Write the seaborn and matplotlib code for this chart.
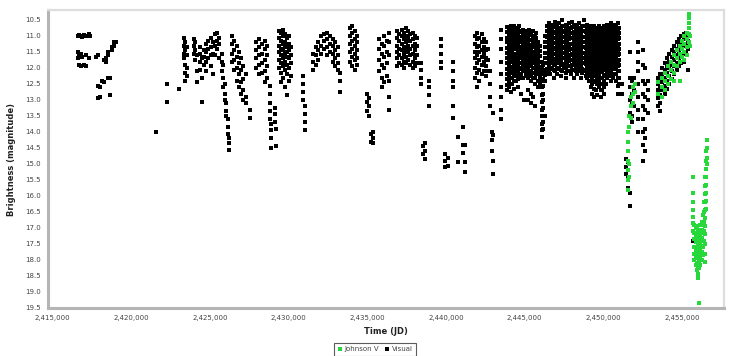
import matplotlib
matplotlib.use("Agg")
import matplotlib.pyplot as plt
import seaborn as sns
import pandas as pd
from matplotlib.ticker import FuncFormatter
from matplotlib.lines import Line2D

# Each entry: (Julian Date, [magnitude estimates reported around that date])

visual_1915 = [
    (2416630, [11.0, 11.5, 11.7]),
    (2416720, [10.97, 11.6, 11.9]),
    (2416810, [11.0, 11.55, 11.95]),
    (2416900, [11.02, 11.65]),
    (2417020, [10.98, 11.9]),
    (2417150, [11.0, 11.6, 11.95]),
    (2417300, [10.95, 11.7]),
    (2417390, [11.0]),
    (2417760, [11.65]),
    (2417900, [11.6, 12.55, 12.95]),
    (2418000, [12.6, 12.9]),
    (2418180, [12.4]),
    (2418300, [11.75, 12.45]),
    (2418420, [11.8, 11.7]),
    (2418560, [11.6, 11.5, 12.3]),
    (2418660, [12.3, 12.85]),
    (2418760, [11.45, 11.35]),
    (2418900, [11.3, 11.2]),
    (2419030, [11.2]),
]

visual_1921 = [
    (2421590, [14.0]),
    (2422280, [12.5, 13.05]),
    (2423040, [12.65]),
    (2423330, [11.05, 11.3, 11.55, 11.7]),
    (2423420, [11.2, 11.45, 11.9, 12.15, 12.4]),
    (2423520, [11.35, 11.6, 12.0, 12.25]),
    (2423980, [11.1, 11.3, 11.55]),
    (2424080, [11.2, 11.45, 11.75]),
    (2424180, [11.6, 12.1, 12.45]),
    (2424380, [11.35, 11.55, 11.8, 12.05]),
    (2424480, [11.7, 12.3, 13.05]),
    (2424620, [11.45, 11.65, 11.9]),
    (2424760, [11.25, 11.5, 11.8, 12.1]),
    (2424900, [11.15, 11.4, 11.7]),
    (2425060, [11.05, 11.35, 11.6, 11.95]),
    (2425200, [11.2, 11.55, 12.2]),
    (2425350, [10.95, 11.3, 11.6]),
    (2425480, [10.9, 11.15, 11.4]),
    (2425600, [11.05, 11.25, 11.7]),
]

visual_1928 = [
    (2425760, [11.55, 11.8, 12.1]),
    (2425860, [11.9, 12.3, 12.6]),
    (2425960, [12.5, 12.8, 13.0]),
    (2426060, [13.1, 13.35, 13.5]),
    (2426140, [13.6, 13.85, 14.05]),
    (2426220, [14.2, 14.35, 14.55]),
    (2426420, [11.0, 11.25, 11.55, 11.8]),
    (2426560, [11.15, 11.45, 11.75, 12.05]),
    (2426700, [11.3, 11.65, 12.0, 12.4]),
    (2426840, [11.5, 11.85, 12.2, 12.6]),
    (2426980, [11.7, 12.05, 12.45, 12.8]),
    (2427120, [11.95, 12.35, 12.7, 13.0]),
    (2427280, [12.2, 12.9, 13.1]),
    (2427580, [13.3, 13.55]),
    (2427960, [11.2, 11.45, 11.7, 12.0]),
    (2428120, [11.1, 11.35, 11.6, 11.9, 12.2]),
    (2428300, [11.25, 11.55, 11.85, 12.15]),
    (2428480, [11.15, 11.4, 11.75, 12.1, 12.45]),
    (2428640, [11.3, 11.6, 11.95, 12.3]),
    (2428800, [12.55, 12.8, 13.1, 13.35, 13.6]),
    (2428880, [13.75, 13.95, 14.2, 14.5]),
    (2429130, [13.25, 13.45, 13.7]),
    (2429230, [13.9, 14.45]),
]

visual_1931 = [
    (2429420, [10.85, 11.05, 11.3, 11.5, 11.75, 12.0]),
    (2429540, [10.9, 11.15, 11.4, 11.6, 11.85, 12.15, 12.45]),
    (2429660, [10.8, 11.0, 11.25, 11.45, 11.7, 11.95, 12.3]),
    (2429780, [10.95, 11.2, 11.35, 11.55, 11.8, 12.05, 12.6]),
    (2429900, [11.05, 11.3, 11.5, 11.65, 11.9, 12.2, 12.85]),
    (2430020, [11.0, 11.25, 11.45, 11.7, 12.0, 12.4]),
    (2430140, [11.35, 11.6, 11.85, 12.25]),
    (2430900, [12.25, 12.5, 12.75, 13.0]),
    (2431020, [13.2, 13.45, 13.7, 13.95]),
    (2431550, [11.55, 11.8, 12.05]),
    (2431720, [11.35, 11.6, 11.9]),
    (2431900, [11.2, 11.45, 11.75]),
    (2432080, [11.0, 11.3, 11.55]),
    (2432260, [10.95, 11.15, 11.4]),
    (2432440, [10.9, 11.1, 11.35, 11.6]),
    (2432620, [11.0, 11.25, 11.5]),
    (2432800, [11.1, 11.3, 11.55, 11.8]),
    (2432980, [11.2, 11.45, 11.7, 11.95]),
    (2433160, [11.35, 11.6, 11.85, 12.05]),
    (2433300, [12.15, 12.4, 12.75]),
]

visual_1935 = [
    (2433920, [10.75, 11.0, 11.25, 11.5, 11.8]),
    (2434060, [10.7, 10.9, 11.15, 11.4, 11.65, 11.95]),
    (2434220, [10.85, 11.1, 11.3, 11.55, 11.75, 12.05]),
    (2434380, [11.0, 11.2, 11.45, 11.7, 11.9]),
    (2434980, [12.8, 13.05, 13.35]),
    (2435120, [12.95, 13.2, 13.5]),
    (2435220, [14.05, 14.3]),
    (2435380, [14.0, 14.2, 14.35]),
    (2435780, [11.1, 11.4, 11.75, 12.1]),
    (2435920, [11.25, 11.55, 11.9, 12.3, 12.6]),
    (2436080, [11.0, 11.3, 11.65, 12.0, 12.45]),
    (2436240, [11.15, 11.5, 11.85, 12.25]),
    (2436380, [10.9, 11.2, 11.6, 12.4, 12.9, 13.3]),
]

visual_1940 = [
    (2436900, [10.85, 11.05, 11.3, 11.5, 11.7, 11.95]),
    (2437040, [10.95, 11.15, 11.4, 11.6, 11.85]),
    (2437180, [10.8, 11.0, 11.25, 11.45, 11.7, 11.9]),
    (2437320, [10.9, 11.1, 11.35, 11.55, 11.8, 12.0]),
    (2437460, [10.75, 11.0, 11.2, 11.45, 11.65, 11.85]),
    (2437600, [10.85, 11.05, 11.3, 11.5, 11.75]),
    (2437740, [10.95, 11.15, 11.4, 11.6, 11.9]),
    (2437880, [10.9, 11.1, 11.3, 11.55, 11.8, 12.0]),
    (2438020, [11.0, 11.25, 11.45, 11.7, 11.95]),
    (2438160, [11.05, 11.3, 11.6, 11.85]),
    (2438400, [11.85, 12.05, 12.3, 12.5]),
    (2438560, [14.45, 14.7]),
    (2438700, [14.35, 14.6, 14.85]),
    (2438950, [12.4, 12.6, 12.85, 13.2]),
    (2439660, [11.1, 11.3, 11.55, 11.8, 12.0]),
    (2439960, [14.7, 14.9, 15.1]),
    (2440160, [14.8, 15.05]),
    (2440420, [11.8, 12.1, 12.4, 12.6, 13.2, 13.55]),
    (2440780, [14.15, 14.95]),
    (2441060, [13.85, 14.4, 14.65]),
    (2441200, [14.4, 14.95, 15.25]),
]

visual_1944 = [
    (2441850, [11.0, 11.25, 11.5, 11.7, 12.0, 12.3]),
    (2441990, [10.9, 11.1, 11.35, 11.6, 11.85, 12.15, 12.6]),
    (2442130, [11.05, 11.3, 11.5, 11.75, 12.05, 12.4]),
    (2442270, [10.95, 11.2, 11.45, 11.65, 11.9, 12.2]),
    (2442410, [11.1, 11.35, 11.55, 11.8, 12.1]),
    (2442550, [11.2, 11.45, 11.7, 11.95, 12.25]),
    (2442700, [11.4, 11.75, 12.1]),
    (2442830, [12.1, 12.5, 12.9, 13.2]),
    (2442900, [14.0, 14.25, 14.6]),
    (2443020, [13.4, 14.1, 14.9, 15.3]),
    (2443520, [10.8, 11.1, 11.4, 11.8, 12.2, 12.6, 12.9, 13.3, 13.6]),
]

visual_1979 = [
    (2443905, [10.72, 10.88, 11.05, 11.2, 11.38, 11.52, 11.7, 11.85, 12.02, 12.18, 12.35, 12.52, 12.7]),
    (2444015, [10.78, 10.95, 11.12, 11.28, 11.45, 11.6, 11.78, 11.95, 12.1, 12.27, 12.45, 12.6]),
    (2444122, [10.7, 10.85, 11.02, 11.18, 11.35, 11.5, 11.68, 11.82, 12.0, 12.15, 12.32, 12.5, 12.75]),
    (2444230, [10.8, 10.97, 11.13, 11.3, 11.45, 11.62, 11.8, 11.96, 12.12, 12.3, 12.5]),
    (2444338, [10.7, 10.86, 11.04, 11.22, 11.37, 11.55, 11.7, 11.88, 12.04, 12.2, 12.4, 12.65]),
    (2444445, [10.76, 10.93, 11.1, 11.26, 11.42, 11.6, 11.75, 11.92, 12.08, 12.25, 12.4]),
    (2444552, [10.82, 11.0, 11.15, 11.32, 11.48, 11.65, 11.82, 11.98, 12.15, 12.35, 12.6]),
    (2444660, [10.7, 10.87, 11.05, 11.2, 11.37, 11.53, 11.7, 11.86, 12.03, 12.18, 12.3]),
    (2444770, [10.85, 11.02, 11.18, 11.35, 11.5, 11.67, 11.84, 12.0, 12.2, 12.8]),
    (2444878, [10.8, 10.95, 11.12, 11.28, 11.44, 11.6, 11.77, 11.94, 12.1, 12.3]),
    (2444985, [10.9, 11.06, 11.22, 11.4, 11.56, 11.72, 11.88, 12.05, 12.1, 13.0]),
    (2445095, [10.85, 11.0, 11.16, 11.33, 11.5, 11.66, 11.82, 11.98, 12.14, 12.25]),
    (2445200, [10.9, 11.08, 11.25, 11.4, 11.58, 11.74, 11.9, 12.08, 12.3, 12.7, 13.0]),
    (2445310, [10.8, 10.96, 11.13, 11.3, 11.46, 11.62, 11.78, 11.95, 12.1, 12.2]),
    (2445420, [10.95, 11.12, 11.28, 11.44, 11.6, 11.76, 11.92, 12.1, 12.25, 12.4, 12.8, 13.1]),
    (2445530, [10.85, 11.02, 11.18, 11.35, 11.52, 11.68, 11.85, 12.0, 12.16, 12.3, 12.9]),
    (2445640, [11.0, 11.16, 11.32, 11.5, 11.66, 11.82, 12.0, 12.15, 12.32, 12.5, 13.2]),
    (2445750, [10.9, 11.06, 11.24, 11.4, 11.56, 11.72, 11.9, 12.05, 12.2]),
    (2445860, [11.2, 11.36, 11.52, 11.7, 11.86, 12.02, 12.2, 12.4, 12.6]),
    (2445970, [11.3, 11.48, 11.64, 11.8, 11.96, 12.12, 12.3, 12.5]),
    (2446080, [11.8, 12.0, 12.2, 12.4, 12.6, 12.85, 13.05, 13.3, 13.5, 13.75, 13.95, 14.15]),
    (2446190, [11.9, 12.1, 12.35, 12.55, 12.8, 13.0, 13.25, 13.5, 13.7, 13.9]),
    (2446300, [11.0, 11.18, 11.35, 11.52, 11.7, 11.86, 12.05, 12.22, 12.4, 13.5]),
    (2446420, [10.7, 10.86, 11.02, 11.2, 11.36, 11.52, 11.7, 11.86, 12.03, 12.2]),
]

visual_1986 = [
    (2446530, [10.6, 10.77, 10.94, 11.1, 11.27, 11.44, 11.6, 11.77, 11.94, 12.1]),
    (2446640, [10.7, 10.86, 11.03, 11.2, 11.36, 11.53, 11.7, 11.86, 12.02, 12.2]),
    (2446745, [10.65, 10.82, 10.98, 11.15, 11.32, 11.48, 11.65, 11.82, 12.0]),
    (2446850, [10.7, 10.88, 11.05, 11.22, 11.38, 11.55, 11.72, 11.88, 12.05, 12.3]),
    (2446960, [10.55, 10.72, 10.9, 11.06, 11.23, 11.4, 11.57, 11.74, 11.9, 12.1]),
    (2447065, [10.7, 10.86, 11.02, 11.18, 11.35, 11.52, 11.68, 11.85, 12.02, 12.2]),
    (2447170, [10.6, 10.78, 10.95, 11.12, 11.28, 11.45, 11.62, 11.8, 12.0]),
    (2447280, [10.75, 10.92, 11.08, 11.25, 11.42, 11.58, 11.75, 11.92, 12.08, 12.25]),
    (2447385, [10.5, 10.68, 10.85, 11.02, 11.18, 11.35, 11.52, 11.7, 11.88, 12.1]),
    (2447490, [10.7, 10.87, 11.04, 11.2, 11.37, 11.54, 11.7, 11.87, 12.0]),
    (2447600, [10.65, 10.82, 10.98, 11.15, 11.32, 11.5, 11.66, 11.83, 12.0, 12.15, 12.3]),
    (2447705, [10.7, 10.88, 11.05, 11.22, 11.38, 11.56, 11.72, 11.9, 12.1]),
    (2447810, [10.6, 10.78, 10.95, 11.1, 11.28, 11.45, 11.62, 11.78, 11.95]),
    (2447920, [10.75, 10.92, 11.08, 11.25, 11.42, 11.6, 11.76, 11.93, 12.1, 12.2]),
    (2448025, [10.55, 10.72, 10.9, 11.06, 11.24, 11.4, 11.58, 11.74, 11.9, 12.05]),
    (2448130, [10.7, 10.87, 11.03, 11.2, 11.37, 11.54, 11.7, 11.88, 12.05, 12.3]),
    (2448240, [10.65, 10.8, 10.98, 11.15, 11.3, 11.48, 11.65, 11.82, 11.98, 12.1]),
    (2448345, [10.7, 10.88, 11.04, 11.22, 11.38, 11.55, 11.72, 11.9, 12.05, 12.2]),
    (2448450, [10.6, 10.77, 10.95, 11.12, 11.28, 11.45, 11.62, 11.8, 12.0]),
    (2448560, [10.75, 10.9, 11.08, 11.25, 11.42, 11.58, 11.75, 11.92, 12.1, 12.3]),
    (2448665, [10.7, 10.86, 11.02, 11.2, 11.36, 11.52, 11.7, 11.86, 12.02, 12.15]),
    (2448770, [10.5, 10.68, 10.86, 11.02, 11.2, 11.36, 11.53, 11.7, 11.86, 12.1]),
    (2448880, [10.7, 10.87, 11.04, 11.2, 11.38, 11.55, 11.72, 11.88, 12.05, 12.25]),
    (2448985, [10.65, 10.82, 11.0, 11.16, 11.33, 11.5, 11.66, 11.84, 12.0, 12.15, 12.3]),
    (2449090, [10.75, 10.92, 11.1, 11.26, 11.43, 11.6, 11.76, 11.93, 12.1, 12.25, 12.4]),
]

visual_1994 = [
    (2449200, [10.7, 10.86, 11.03, 11.2, 11.36, 11.53, 11.7, 11.86, 12.03, 12.2, 12.4, 12.6]),
    (2449305, [10.8, 10.96, 11.13, 11.3, 11.46, 11.63, 11.8, 11.96, 12.13, 12.3, 12.5, 12.8]),
    (2449410, [10.7, 10.87, 11.04, 11.2, 11.37, 11.54, 11.7, 11.87, 12.04, 12.2, 12.4, 12.65, 12.9]),
    (2449520, [10.75, 10.92, 11.08, 11.25, 11.42, 11.58, 11.75, 11.92, 12.08, 12.25, 12.45, 12.7]),
    (2449625, [10.8, 10.97, 11.14, 11.3, 11.47, 11.64, 11.8, 11.97, 12.14, 12.32, 12.5, 12.85]),
    (2449730, [10.7, 10.86, 11.03, 11.2, 11.36, 11.53, 11.7, 11.86, 12.03, 12.2, 12.4, 12.6]),
    (2449840, [10.75, 10.92, 11.1, 11.26, 11.43, 11.6, 11.76, 11.93, 12.1, 12.3, 12.5, 12.7, 12.9]),
    (2449945, [10.8, 10.96, 11.13, 11.3, 11.46, 11.63, 11.8, 11.96, 12.13, 12.3, 12.5, 12.7]),
    (2450050, [10.7, 10.87, 11.04, 11.2, 11.37, 11.54, 11.7, 11.87, 12.04, 12.22, 12.42, 12.6, 12.8]),
    (2450160, [10.75, 10.92, 11.08, 11.25, 11.42, 11.58, 11.75, 11.92, 12.08, 12.25, 12.5]),
    (2450265, [10.65, 10.82, 10.98, 11.15, 11.32, 11.48, 11.65, 11.82, 11.98, 12.15, 12.3]),
    (2450370, [10.7, 10.87, 11.04, 11.2, 11.37, 11.54, 11.7, 11.87, 12.04, 12.2]),
    (2450480, [10.6, 10.77, 10.94, 11.1, 11.27, 11.44, 11.6, 11.77, 11.94, 12.1, 12.25, 12.4]),
    (2450585, [10.7, 10.87, 11.03, 11.2, 11.37, 11.53, 11.7, 11.87, 12.03, 12.2, 12.3]),
    (2450690, [10.65, 10.82, 10.98, 11.15, 11.32, 11.48, 11.65, 11.82, 11.98, 12.2]),
    (2450800, [10.7, 10.86, 11.03, 11.2, 11.36, 11.53, 11.7, 11.86, 12.03, 12.2, 12.4]),
    (2450905, [10.6, 10.77, 10.94, 11.1, 11.27, 11.44, 11.6, 11.77, 11.94, 12.1, 12.3, 12.55, 12.8]),
    (2451010, [10.75, 10.92, 11.08, 11.25, 11.42, 11.58, 11.75, 11.92, 12.1, 12.3, 12.5]),
    (2451200, [12.5, 12.8]),
]

visual_2000 = [
    (2451420, [14.85, 15.1, 15.3]),
    (2451550, [14.95, 15.2, 15.45, 15.75]),
    (2451700, [11.5, 12.3, 12.6, 13.0, 13.4, 15.9, 16.3]),
    (2451800, [12.4, 12.8, 13.1, 13.5, 13.7]),
    (2451950, [12.3, 12.7, 13.2]),
    (2452180, [11.2, 11.5, 11.8, 12.1, 12.5, 12.9, 13.3, 13.6, 14.0]),
    (2452500, [11.45, 11.9, 12.4, 12.8, 13.2, 13.6, 14.0, 14.4, 14.9]),
    (2452650, [12.0, 12.5, 12.9, 13.3, 13.9, 14.2, 14.6]),
    (2452850, [12.4, 12.7, 13.0, 13.4]),
    (2453450, [12.3, 12.5, 12.7, 12.95, 13.2]),
    (2453600, [12.2, 12.4, 12.6, 12.85, 13.1, 13.35]),
    (2453750, [12.0, 12.2, 12.45, 12.7, 12.9]),
    (2453900, [11.85, 12.05, 12.3, 12.55, 12.8]),
    (2454050, [11.7, 11.95, 12.15, 12.4, 12.65]),
    (2454200, [11.55, 11.8, 12.0, 12.25, 12.5]),
    (2454350, [11.45, 11.65, 11.9, 12.1, 12.35]),
    (2454500, [11.3, 11.5, 11.75, 11.95, 12.2]),
    (2454650, [11.2, 11.4, 11.6, 11.85, 12.05]),
    (2454800, [11.1, 11.3, 11.5, 11.7, 11.95]),
    (2454950, [11.0, 11.2, 11.4, 11.65, 11.85]),
    (2455100, [10.95, 11.1, 11.3, 11.55, 11.8]),
    (2455250, [10.9, 11.05, 11.25, 11.5]),
    (2455400, [10.95, 11.15, 11.4, 12.05]),
    (2455680, [17.4]),
]

johnson_v_2000 = [
    (2451580, [14.0, 14.3, 14.6, 14.9, 15.2, 15.5, 15.8]),
    (2451660, [13.5, 13.85, 15.0, 15.4]),
    (2451760, [12.9, 13.2, 13.55]),
    (2451880, [12.6, 12.8, 13.1]),
    (2452000, [12.5, 12.75]),
    (2453500, [12.45, 12.8]),
    (2453700, [12.3, 12.6, 12.9]),
    (2453900, [12.15, 12.4, 12.7]),
    (2454100, [11.95, 12.25, 12.5]),
    (2454300, [11.8, 12.05, 12.35]),
    (2454500, [11.6, 11.9, 12.15, 12.4]),
    (2454700, [11.45, 11.7, 11.95]),
    (2454850, [11.3, 11.55, 11.8, 12.4]),
    (2455000, [11.15, 11.4, 11.65]),
    (2455150, [11.0, 11.25, 11.5, 11.75]),
    (2455300, [10.9, 11.1, 11.35, 11.6]),
    (2455420, [10.3, 10.45, 10.6, 10.75, 10.95, 11.2]),
    (2455480, [11.0, 11.3]),
]

johnson_v_2011 = [
    (2455700, [15.4, 15.9, 16.2, 16.45, 16.65, 16.85, 17.1]),
    (2455780, [16.9, 17.15, 17.35, 17.6, 17.8, 18.0]),
    (2455860, [17.0, 17.25, 17.45, 17.7, 17.9, 18.15]),
    (2455940, [16.95, 17.2, 17.4, 17.65, 17.85, 18.1, 18.3]),
    (2456020, [17.05, 17.3, 17.55, 17.75, 17.95, 18.2, 18.45, 18.55]),
    (2456080, [17.1, 17.35, 17.5, 17.8, 18.05, 18.25, 19.35]),
    (2456160, [16.9, 17.2, 17.45, 17.7, 17.9, 18.15]),
    (2456240, [16.8, 17.05, 17.3, 17.55, 17.75, 18.0]),
    (2456330, [16.6, 16.9, 17.15, 17.4, 17.6, 17.85]),
    (2456420, [16.2, 16.5, 16.8, 17.1, 17.4]),
    (2456480, [15.4, 15.7, 15.95, 16.2, 16.45, 16.7, 16.95, 17.2, 17.5, 17.8, 18.05]),
    (2456540, [14.6, 14.9, 15.15, 15.4, 15.65, 15.9, 16.15, 16.4]),
    (2456600, [14.25, 14.5, 14.8, 15.0]),
]

x_ticks = [2415000, 2420000, 2425000, 2430000, 2435000,
           2440000, 2445000, 2450000, 2455000]
y_ticks = [10.5, 11.0, 11.5, 12.0, 12.5, 13.0, 13.5, 14.0, 14.5, 15.0,
           15.5, 16.0, 16.5, 17.0, 17.5, 18.0, 18.5, 19.0, 19.5]

band_colors = {"Johnson V": "#27d83a", "Visual": "#000000"}


def expand(nights, band):
    rows = []
    for jd, mags in nights:
        for m in mags:
            rows.append((jd, m, band))
    return rows


rows = []
for season in (visual_1915, visual_1921, visual_1928, visual_1931, visual_1935,
               visual_1940, visual_1944, visual_1979, visual_1986, visual_1994,
               visual_2000):
    rows += expand(season, "Visual")
for season in (johnson_v_2000, johnson_v_2011):
    rows += expand(season, "Johnson V")
df = pd.DataFrame(rows, columns=["JD", "Magnitude", "Band"])

sns.set_theme(style="white")
plt.rcParams["font.family"] = ["DejaVu Sans"]

fig = plt.figure(figsize=(7.35, 3.56), dpi=100)
fig.patch.set_facecolor("white")
ax = fig.add_axes([48 / 735, 48 / 356, 676 / 735, 298 / 356])

sns.scatterplot(data=df[df["Band"] == "Visual"], x="JD", y="Magnitude",
                color=band_colors["Visual"], marker="s", s=8, linewidth=0,
                ax=ax, legend=False, zorder=2)
sns.scatterplot(data=df[df["Band"] == "Johnson V"], x="JD", y="Magnitude",
                color=band_colors["Johnson V"], marker="s", s=6.5, linewidth=0,
                ax=ax, legend=False, zorder=3)

ax.set_xlim(2414720, 2457667)
ax.set_ylim(19.5, 10.19)
ax.set_xticks(x_ticks)
ax.set_yticks(y_ticks)
ax.xaxis.set_major_formatter(FuncFormatter(lambda v, p: f"{int(round(v)):,}"))
ax.yaxis.set_major_formatter(FuncFormatter(lambda v, p: f"{v:.1f}"))
ax.tick_params(axis="both", which="major", labelsize=5, colors="#555555",
               length=2.5, width=0.6, direction="out", pad=2.5)
ax.tick_params(axis="both", labelcolor="#444444")

for side in ("left", "bottom"):
    ax.spines[side].set_color("#b5b5b5")
    ax.spines[side].set_linewidth(2.2)
for side in ("top", "right"):
    ax.spines[side].set_color("#dddddd")
    ax.spines[side].set_linewidth(1.6)

ax.set_xlabel("Time (JD)", fontsize=6, fontweight="bold", color="#222222", labelpad=4.5)
ax.set_ylabel("Brightness (magnitude)", fontsize=6, fontweight="bold", color="#222222", labelpad=7)

handles = [
    Line2D([], [], marker="s", linestyle="", markersize=2.2,
           markerfacecolor=band_colors["Johnson V"], markeredgewidth=0, label="Johnson V"),
    Line2D([], [], marker="s", linestyle="", markersize=2.2,
           markerfacecolor=band_colors["Visual"], markeredgewidth=0, label="Visual"),
]
leg = fig.legend(handles=handles, loc="upper center", bbox_to_anchor=(375 / 735, 1 - 343 / 356),
                 ncol=2, fontsize=5, frameon=True, fancybox=False, edgecolor="#333333",
                 borderpad=0.5, handletextpad=0.2, columnspacing=0.8, handlelength=0.8,
                 borderaxespad=0)
leg.get_frame().set_linewidth(0.8)
for t in leg.get_texts():
    t.set_color("#444444")

fig.savefig("out.png", dpi=100, facecolor="white")
